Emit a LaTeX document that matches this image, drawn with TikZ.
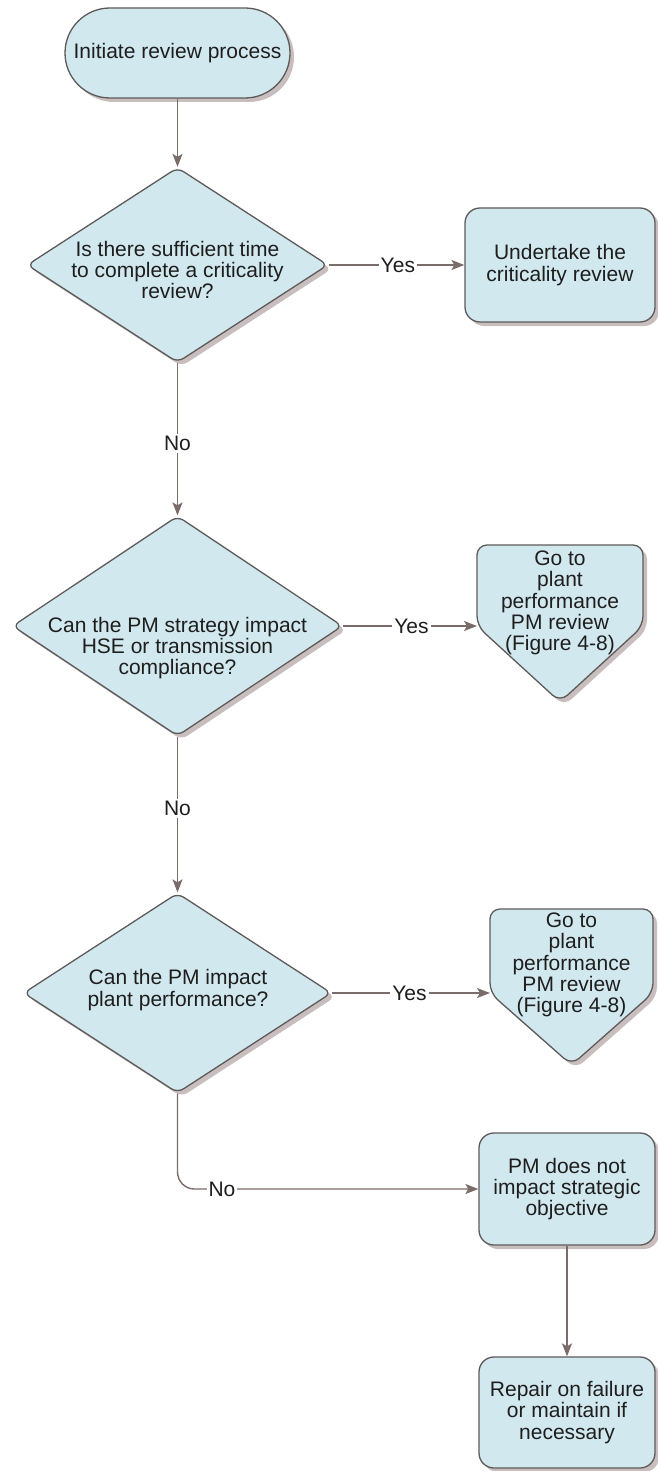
\documentclass[tikz,border=0pt]{standalone}
\usepackage{fontspec}
\setmainfont{Liberation Sans}
\usetikzlibrary{shapes.geometric,arrows.meta,shadows}

\definecolor{boxfill}{HTML}{D2E8EF}
\definecolor{boxline}{HTML}{5E5A5A}
\definecolor{flow}{HTML}{7A6C69}
\definecolor{shade}{HTML}{C9BEBE}
\definecolor{ink}{HTML}{1E1E1E}

\tikzset{
  base/.style={draw=boxline, line width=1.3pt, fill=boxfill,
    drop shadow={shadow xshift=4pt, shadow yshift=-4pt, fill=shade, opacity=1}},
  txt/.style={font=\fontsize{21}{21.3}\selectfont, text=ink, align=center, inner sep=0pt},
  term/.style={base, txt, rectangle, rounded corners=45pt,
    minimum width=225pt, minimum height=90pt},
  decision/.style={base, diamond, rounded corners=7pt, inner sep=0pt},
  proc/.style={base, txt, rectangle, rounded corners=15pt},
  offpage/.style={base, rounded corners=10pt},
  conn/.style={draw=flow, line width=1.4pt,
    -{Stealth[length=13pt,width=10pt,inset=3pt]}},
  lbl/.style={txt, fill=white, inner sep=2pt},
}

\begin{document}
\begin{tikzpicture}[x=1pt,y=-1pt]
  \fill[white] (0,0) rectangle (657,1471);
  \useasboundingbox (0,0) rectangle (657,1471);

  % start
  \node[term] (start) at (177.5,53) {Initiate review process};

  % first decision
  \node[decision, minimum width=301pt, minimum height=195pt] (d1) at (177.5,265) {};
  \node[txt] (d1t) at (177.5,270) {Is there sufficient time\\to complete a criticality\\review?};
  \node[proc, minimum width=190pt, minimum height=114pt] (u) at (560,265)
    {Undertake the\\criticality review};

  % second decision
  \node[decision, minimum width=330pt, minimum height=220pt] (d2) at (177.5,626) {};
  \node[txt] (d2t) at (177.5,648) {Can the PM strategy impact\\HSE or transmission\\compliance?};

  % off-page connector 1
  \path[offpage] (560,545) -- (643,545) -- (643,626) -- (560,702) -- (477,626) -- (477,545) -- cycle;
  \node[txt] (g1) at (560,603) {Go to\\plant\\performance\\PM review\\(Figure 4-8)};
  \coordinate (g1in) at (477,626);

  % third decision
  \node[decision, minimum width=308pt, minimum height=200pt] (d3) at (177.5,993) {};
  \node[txt] (d3t) at (178,990) {Can the PM impact\\plant performance?};

  % off-page connector 2
  \path[offpage] (571.5,909) -- (653,909) -- (653,993) -- (571.5,1065) -- (490,993) -- (490,909) -- cycle;
  \node[txt] (g2) at (571.5,965) {Go to\\plant\\performance\\PM review\\(Figure 4-8)};
  \coordinate (g2in) at (490,993);

  % outcome boxes
  \node[proc, minimum width=176pt, minimum height=112pt] (pm) at (567,1189)
    {PM does not\\impact strategic\\objective};
  \node[proc, minimum width=176pt, minimum height=111pt] (rep) at (567,1412.5)
    {Repair on failure\\or maintain if\\necessary};

  % connectors
  \draw[conn] (start) -- (d1);
  \draw[conn] (d1) -- node[lbl, pos=0.51] (y1) {Yes} (u);
  \draw[conn] (d1) -- node[lbl, pos=0.53] (n1) {No} (d2);
  \draw[conn] (d2.east) -- node[lbl, pos=0.51] (y2) {Yes} (g1in);
  \draw[conn] (d2) -- node[lbl, pos=0.46] (n2) {No} (d3);
  \draw[conn] (d3.east) -- node[lbl, pos=0.49] (y3) {Yes} (g2in);
  \draw[conn, rounded corners=17pt] (d3.south) |- (pm.west);
  \node[lbl] (n3) at (222,1189) {No};
  \draw[conn] (pm) -- (rep);
\end{tikzpicture}
\end{document}
